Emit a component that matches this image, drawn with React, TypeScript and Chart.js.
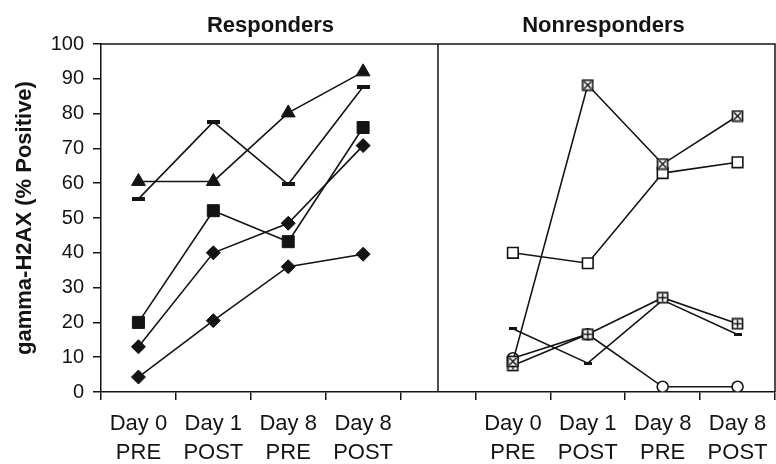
import React, { useEffect, useRef } from 'react';
import { Chart, registerables } from 'chart.js';

Chart.register(...registerables);

const categories: (string | string[])[] = [
  ['Day 0', 'PRE'], ['Day 1', 'POST'], ['Day 8', 'PRE'], ['Day 8', 'POST'],
  '',
  ['Day 0', 'PRE'], ['Day 1', 'POST'], ['Day 8', 'PRE'], ['Day 8', 'POST'],
];
const panelTitles = ['Responders', 'Nonresponders'];
const yTitle = 'gamma-H2AX (% Positive)';
const yTicks = [0, 10, 20, 30, 40, 50, 60, 70, 80, 90, 100];

// Responders (left panel)
const respTriangle = [60.5, 60.5, 80.2, 92];
const respDash = [55.5, 77.6, 59.7, 87.7];
const respSquare = [20, 52.1, 43.2, 76];
const respDiamondA = [13, 40, 48.5, 70.8];
const respDiamondB = [4.3, 20.5, 36, 39.6];

// Nonresponders (right panel)
const nonXSquare = [8.8, 88.2, 65.5, 79.3];
const nonSquare = [40, 37, 62.9, 66];
const nonPlusSquare = [7.6, 16.6, 27.1, 19.6];
const nonDash = [18.2, 8.3, 26.4, 16.5];
const nonCircle = [9.7, 16.6, 1.5, 1.5];

const FONT = '"Liberation Sans", Arial, Helvetica, sans-serif';
const INK = '#141414';

const left = (a: number[]) => [...a, null, null, null, null, null];
const right = (a: number[]) => [null, null, null, null, null, ...a];

function makeMarker(kind: 'x' | 'plus'): HTMLCanvasElement {
  const c = document.createElement('canvas');
  c.width = 13;
  c.height = 13;
  const g = c.getContext('2d')!;
  g.fillStyle = '#fff';
  g.fillRect(1.5, 1.5, 10, 10);
  g.strokeStyle = INK;
  g.lineWidth = 1.7;
  g.strokeRect(1.5, 1.5, 10, 10);
  g.lineWidth = 1.5;
  g.beginPath();
  if (kind === 'x') {
    g.moveTo(3, 3); g.lineTo(10, 10);
    g.moveTo(10, 3); g.lineTo(3, 10);
  } else {
    g.moveTo(6.5, 2.5); g.lineTo(6.5, 10.5);
    g.moveTo(2.5, 6.5); g.lineTo(10.5, 6.5);
  }
  g.stroke();
  return c;
}

function makeDash(w: number, h: number): HTMLCanvasElement {
  const c = document.createElement('canvas');
  c.width = w;
  c.height = h;
  const g = c.getContext('2d')!;
  g.fillStyle = INK;
  g.fillRect(0, 0, w, h);
  return c;
}

const panelPlugin = {
  id: 'panels',
  afterDraw(chart: any) {
    const { ctx, chartArea: a, scales } = chart;
    const x = scales.x;
    const dx = x.getPixelForValue(4);
    ctx.save();
    ctx.strokeStyle = INK;
    ctx.lineWidth = 1.5;
    ctx.beginPath();
    ctx.moveTo(a.left, a.top);
    ctx.lineTo(a.right, a.top);
    ctx.lineTo(a.right, a.bottom);
    ctx.moveTo(dx, a.top);
    ctx.lineTo(dx, a.bottom);
    ctx.stroke();
    ctx.fillStyle = INK;
    ctx.font = `bold 22px ${FONT}`;
    ctx.textAlign = 'center';
    ctx.textBaseline = 'alphabetic';
    ctx.fillText(panelTitles[0], (a.left + dx) / 2 + 1, a.top - 12.5);
    ctx.fillText(panelTitles[1], (dx + a.right) / 2 - 3, a.top - 12.5);
    ctx.restore();
  },
};

export default function App() {
  const ref = useRef<HTMLCanvasElement>(null);

  useEffect(() => {
    const xMark = makeMarker('x');
    const plusMark = makeMarker('plus');
    const bigDash = makeDash(13, 4);
    const smallDash = makeDash(8, 3);
    const line = { borderColor: INK, borderWidth: 1.6, tension: 0, spanGaps: false };
    const solid = { pointBackgroundColor: INK, pointBorderColor: INK, pointBorderWidth: 1 };
    const open = { pointBackgroundColor: '#fff', pointBorderColor: INK, pointBorderWidth: 1.6 };

    const chart = new Chart(ref.current!, {
      type: 'line',
      data: {
        labels: categories,
        datasets: [
          { label: 'R triangle', data: left(respTriangle), ...line, ...solid, pointStyle: 'triangle', pointRadius: 8 },
          { label: 'R dash', data: left(respDash), ...line, pointStyle: bigDash, pointRadius: 6 },
          { label: 'R square', data: left(respSquare), ...line, ...solid, pointStyle: 'rect', pointRadius: 8.5 },
          { label: 'R diamond A', data: left(respDiamondA), ...line, ...solid, pointStyle: 'rectRot', pointRadius: 7 },
          { label: 'R diamond B', data: left(respDiamondB), ...line, ...solid, pointStyle: 'rectRot', pointRadius: 7 },
          { label: 'N x-square', data: right(nonXSquare), ...line, pointStyle: xMark, pointRadius: 6 },
          { label: 'N square', data: right(nonSquare), ...line, ...open, pointStyle: 'rect', pointRadius: 7.5 },
          { label: 'N plus-square', data: right(nonPlusSquare), ...line, pointStyle: plusMark, pointRadius: 6 },
          { label: 'N dash', data: right(nonDash), ...line, pointStyle: smallDash, pointRadius: 4 },
          { label: 'N circle', data: right(nonCircle), ...line, ...open, pointStyle: 'circle', pointRadius: 5.5 },
        ] as any,
      },
      options: {
        responsive: false,
        animation: false,
        events: [],
        layout: { autoPadding: false, padding: { top: 44, right: 1, left: 0, bottom: 0 } },
        plugins: {
          legend: { display: false },
          tooltip: { enabled: false },
          title: { display: false },
        },
        scales: {
          x: {
            type: 'category',
            offset: true,
            grid: { display: true, offset: true, drawOnChartArea: false, drawTicks: true, tickLength: 8, color: INK, lineWidth: 1.5 },
            border: { display: true, color: INK, width: 1.5 },
            ticks: {
              autoSkip: false,
              maxRotation: 0,
              minRotation: 0,
              padding: 9,
              color: INK,
              font: { family: FONT, size: 22, lineHeight: 1.32 },
            },
            afterFit: (s: any) => { s.height = 72; s.paddingLeft = 0; s.paddingRight = 0; },
          },
          y: {
            min: 0,
            max: 100,
            afterBuildTicks: (s: any) => { s.ticks = yTicks.map((v) => ({ value: v })); },
            grid: { display: true, drawOnChartArea: false, drawTicks: true, tickLength: 8, color: INK, lineWidth: 1.5 },
            border: { display: true, color: INK, width: 1.5 },
            ticks: { padding: 9, color: INK, font: { family: FONT, size: 20 } },
            title: {
              display: true,
              text: yTitle,
              color: INK,
              font: { family: FONT, size: 22, weight: 'bold' },
              padding: { top: 12, bottom: 0 },
            },
            afterFit: (s: any) => { s.width = 101; },
          },
        },
      } as any,
      plugins: [panelPlugin],
    });
    return () => chart.destroy();
  }, []);

  return (
    <div style={{ position: 'fixed', left: 0, top: 0, width: 776, height: 464, background: '#fff' }}>
      <canvas ref={ref} width={776} height={464} style={{ display: 'block' }} />
    </div>
  );
}
